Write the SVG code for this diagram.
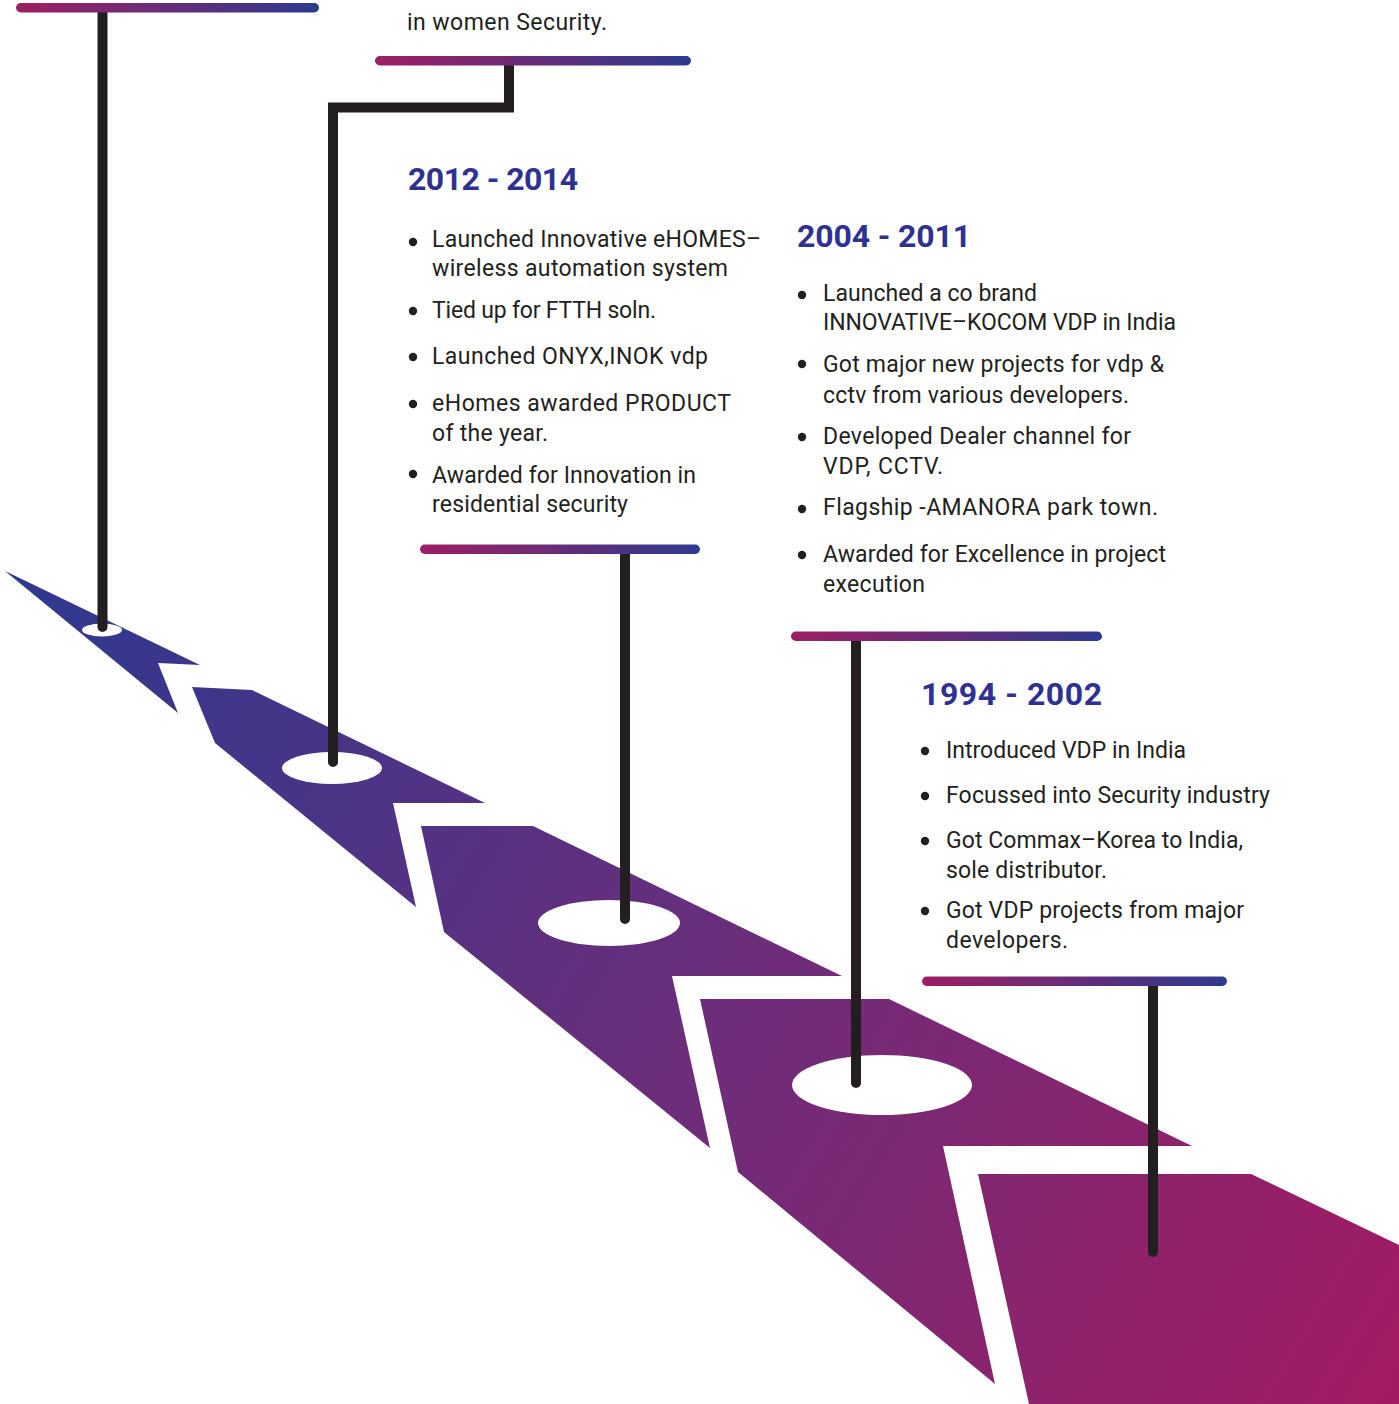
<svg xmlns="http://www.w3.org/2000/svg" width="1399" height="1404" viewBox="0 0 1399 1404">
<defs>
<linearGradient id="road" gradientUnits="userSpaceOnUse" x1="0" y1="560" x2="1399" y2="1404">
<stop offset="0" stop-color="#2b3990"/>
<stop offset="0.5" stop-color="#6a2e7b"/>
<stop offset="1" stop-color="#a31b62"/>
</linearGradient>
<linearGradient id="bar" x1="0" y1="0" x2="1" y2="0">
<stop offset="0" stop-color="#9e1f63"/>
<stop offset="1" stop-color="#2e3a8f"/>
</linearGradient>
<style>
.seg{fill:url(#road)}
.hole{fill:#ffffff}
.pole{fill:none;stroke:#231f20;stroke-width:10;stroke-linecap:round;stroke-linejoin:miter}
.bar{fill:url(#bar)}
.hd{font-family:Roboto,"Liberation Sans",sans-serif;font-weight:700;font-size:32px;fill:#2e3192}
.tx{font-family:Roboto,"Liberation Sans",sans-serif;font-weight:400;font-size:23px;fill:#231f20}
.dot{fill:#231f20}
</style>
</defs>
<rect width="1399" height="1404" fill="#ffffff"/>
<g id="road">
<path class="seg" d="M5,571 L200,665 L158,663 L178,713 Z"/>
<path class="seg" d="M192,687 L252,690 L485,803 L393,803 L416,907 L215,743 Z"/>
<path class="seg" d="M421,826 L533,826 L842,976 L672,976 L710,1148 L444,932 Z"/>
<path class="seg" d="M700,999 L889,999 L1192,1146 L943,1146 L995,1384 L738,1172 Z"/>
<path class="seg" d="M978,1174 L1251,1174 L1399,1245 L1399,1404 L1029,1404 Z"/>
<ellipse class="hole" cx="102" cy="630" rx="20" ry="6.5"/>
<ellipse class="hole" cx="332" cy="768" rx="50" ry="16"/>
<ellipse class="hole" cx="609" cy="923" rx="71" ry="23"/>
<ellipse class="hole" cx="882" cy="1085" rx="90" ry="30"/>
</g>
<g id="connectors">
<path class="pole" d="M102.5,13 V627"/>
<path class="pole" d="M509,66 V107.5 H333 V762"/>
<path class="pole" d="M625,554 V919"/>
<path class="pole" d="M856,641 V1083"/>
<path class="pole" d="M1153,986 V1252"/>
</g>
<g id="bars">
<rect class="bar" x="16" y="3" width="303" height="9.5" rx="4.75"/>
<rect class="bar" x="375" y="56" width="316" height="9.5" rx="4.75"/>
<rect class="bar" x="420" y="544.5" width="280" height="9.5" rx="4.75"/>
<rect class="bar" x="791" y="631.5" width="311" height="9.5" rx="4.75"/>
<rect class="bar" x="922" y="976.5" width="305" height="9.5" rx="4.75"/>
</g>
<g id="node-top">
<text class="tx" x="407" y="30" textLength="200">in women Security.</text>
</g>
<g id="node-2012-2014">
<text class="hd" x="408" y="190" textLength="170">2012 - 2014</text>
<circle class="dot" cx="413" cy="242" r="4.2"/>
<text class="tx" x="432" y="246.5" textLength="329">Launched Innovative eHOMES–</text>
<text class="tx" x="432" y="276" textLength="296">wireless automation system</text>
<circle class="dot" cx="413" cy="311" r="4.2"/>
<text class="tx" x="432" y="317.5" textLength="224">Tied up for FTTH soln.</text>
<circle class="dot" cx="413" cy="357" r="4.2"/>
<text class="tx" x="432" y="363.5" textLength="276">Launched ONYX,INOK vdp</text>
<circle class="dot" cx="413" cy="404" r="4.2"/>
<text class="tx" x="432" y="410.5" textLength="299">eHomes awarded PRODUCT</text>
<text class="tx" x="432" y="440.5" textLength="116">of the year.</text>
<circle class="dot" cx="413" cy="474" r="4.2"/>
<text class="tx" x="432" y="483" textLength="264">Awarded for Innovation in</text>
<text class="tx" x="432" y="512" textLength="196">residential security</text>
</g>
<g id="node-2004-2011">
<text class="hd" x="797" y="247" textLength="174">2004 - 2011</text>
<circle class="dot" cx="802" cy="295" r="4.2"/>
<text class="tx" x="823" y="300.5" textLength="214">Launched a co brand</text>
<text class="tx" x="823" y="330" textLength="353">INNOVATIVE–KOCOM VDP in India</text>
<circle class="dot" cx="802" cy="364" r="4.2"/>
<text class="tx" x="823" y="371.5" textLength="341">Got major new projects for vdp &amp;</text>
<text class="tx" x="823" y="402.5" textLength="306">cctv from various developers.</text>
<circle class="dot" cx="802" cy="437" r="4.2"/>
<text class="tx" x="823" y="443.5" textLength="308">Developed Dealer channel for</text>
<text class="tx" x="823" y="474" textLength="120">VDP, CCTV.</text>
<circle class="dot" cx="802" cy="509" r="4.2"/>
<text class="tx" x="823" y="515" textLength="335">Flagship -AMANORA park town.</text>
<circle class="dot" cx="802" cy="555" r="4.2"/>
<text class="tx" x="823" y="561.5" textLength="343">Awarded for Excellence in project</text>
<text class="tx" x="823" y="591.5" textLength="102">execution</text>
</g>
<g id="node-1994-2002">
<text class="hd" x="921" y="705" textLength="181">1994 - 2002</text>
<circle class="dot" cx="925" cy="751" r="4.2"/>
<text class="tx" x="946" y="757.5" textLength="240">Introduced VDP in India</text>
<circle class="dot" cx="925" cy="796" r="4.2"/>
<text class="tx" x="946" y="803" textLength="324">Focussed into Security industry</text>
<circle class="dot" cx="925" cy="841" r="4.2"/>
<text class="tx" x="946" y="848" textLength="297">Got Commax–Korea to India,</text>
<text class="tx" x="946" y="878" textLength="161">sole distributor.</text>
<circle class="dot" cx="925" cy="911" r="4.2"/>
<text class="tx" x="946" y="918" textLength="298">Got VDP projects from major</text>
<text class="tx" x="946" y="948" textLength="122">developers.</text>
</g>
</svg>
